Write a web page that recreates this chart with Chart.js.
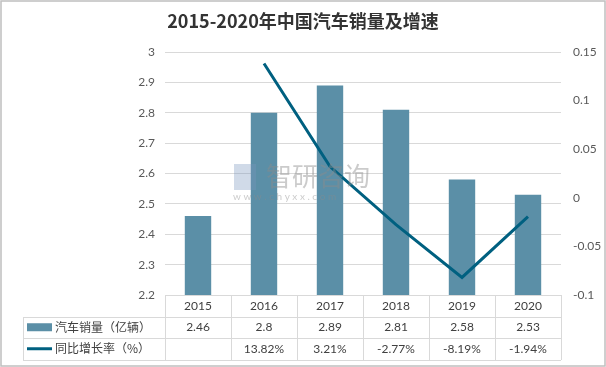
<!DOCTYPE html>
<html lang="zh-CN">
<head>
    <meta charset="UTF-8">
    <title>2015-2020年中国汽车销量及增速</title>
    <script src="https://cdn.jsdelivr.net/npm/chart.js"></script>
    <style>
        body { margin: 0; padding: 0; background: #fff; }
        .wrap { width: 606px; height: 367px; position: relative; }
    </style>
</head>
<body>
    <div class="wrap">
        <canvas id="salesChart" width="606" height="367"></canvas>
    </div>

    <script>
        // data
        const years = ['2015', '2016', '2017', '2018', '2019', '2020'];
        const sales = [2.46, 2.8, 2.89, 2.81, 2.58, 2.53];            // 亿辆
        const growth = [null, 0.1382, 0.0321, -0.0277, -0.0819, -0.0194];
        const salesLabels = ['2.46', '2.8', '2.89', '2.81', '2.58', '2.53'];
        const growthLabels = ['', '13.82%', '3.21%', '-2.77%', '-8.19%', '-1.94%'];
        const salesName = '汽车销量（亿辆）';
        const growthName = '同比增长率（%）';

        const barColor = '#5b8fa7';
        const lineColor = '#006080';
        const gridColor = '#d9d9d9';
        const textColor = '#404040';
        const numFont = "Lato, 'Noto Sans CJK SC', sans-serif";
        const cjkFont = "'Noto Sans CJK SC', sans-serif";

        // white page, outer border, faint watermark
        const backdrop = {
            id: 'backdrop',
            beforeDraw(chart) {
                const c = chart.ctx;
                c.save();
                c.fillStyle = '#fff';
                c.fillRect(0, 0, chart.width, chart.height);
                c.strokeStyle = '#bfbfbf';
                c.lineWidth = 1.5;
                c.strokeRect(1, 1, chart.width - 2, chart.height - 2);
                c.restore();
            },
            afterDatasetsDraw(chart) {
                const c = chart.ctx;
                c.save();
                c.fillStyle = 'rgba(140,140,140,0.45)';
                c.font = "26px " + cjkFont;
                c.textBaseline = 'middle';
                c.fillText('智研咨询', 266, 176);
                c.font = "10px " + numFont;
                c.fillText('w w w . c h y x x . c o m', 233, 197);
                c.fillStyle = 'rgba(120,150,190,0.35)';
                c.fillRect(234, 164, 22, 26);
                c.restore();
            }
        };

        // data table under the plot
        const dataTable = {
            id: 'dataTable',
            afterDraw(chart) {
                const c = chart.ctx;
                const area = chart.chartArea;
                const xs = chart.scales.x;
                const step = (area.right - area.left) / years.length;
                const top = area.bottom;
                const rowH = 21.5;
                const labelLeft = 23;
                c.save();
                c.strokeStyle = gridColor;
                c.lineWidth = 1;

                // horizontal lines
                c.beginPath();
                c.moveTo(area.left, top + 0.5);
                c.lineTo(area.right, top + 0.5);
                for (let r = 1; r <= 3; r++) {
                    const y = Math.round(top + r * rowH) + 0.5;
                    c.moveTo(labelLeft, y);
                    c.lineTo(area.right, y);
                }
                // vertical lines
                for (let i = 0; i <= years.length; i++) {
                    const x = Math.round(area.left + i * step) + 0.5;
                    c.moveTo(x, top);
                    c.lineTo(x, Math.round(top + 3 * rowH));
                }
                c.moveTo(labelLeft + 0.5, Math.round(top + rowH));
                c.lineTo(labelLeft + 0.5, Math.round(top + 3 * rowH));
                c.stroke();

                // legend keys and names
                const y1 = top + rowH * 1.5;
                const y2 = top + rowH * 2.5;
                c.fillStyle = barColor;
                c.fillRect(27, y1 - 4, 25, 8);
                c.strokeStyle = lineColor;
                c.lineWidth = 3;
                c.beginPath();
                c.moveTo(27, y2);
                c.lineTo(52, y2);
                c.stroke();

                c.fillStyle = textColor;
                c.textBaseline = 'middle';
                c.font = "12px " + cjkFont;
                c.textAlign = 'left';
                c.fillText(salesName, 55, y1);
                c.fillText(growthName, 55, y2);

                // values
                c.font = "12px " + numFont;
                c.textAlign = 'center';
                years.forEach((y, i) => {
                    const x = xs.getPixelForTick(i);
                    c.fillText(salesLabels[i], x, y1);
                    c.fillText(growthLabels[i], x, y2);
                });
                c.restore();
            }
        };

        const ctx = document.getElementById('salesChart').getContext('2d');
        const chart = new Chart(ctx, {
            data: {
                labels: years,
                datasets: [
                    {
                        type: 'line',
                        label: growthName,
                        data: growth,
                        yAxisID: 'y1',
                        borderColor: lineColor,
                        borderWidth: 3,
                        pointRadius: 0,
                        tension: 0,
                        fill: false,
                        order: 0
                    },
                    {
                        type: 'bar',
                        label: salesName,
                        data: sales,
                        yAxisID: 'y',
                        backgroundColor: barColor,
                        categoryPercentage: 1,
                        barPercentage: 0.4,
                        order: 1
                    }
                ]
            },
            options: {
                responsive: false,
                animation: false,
                layout: { padding: 0 },
                plugins: {
                    legend: { display: false },
                    tooltip: { enabled: false },
                    title: {
                        display: true,
                        text: '2015-2020年中国汽车销量及增速',
                        color: '#333333',
                        font: { family: cjkFont, size: 18, weight: 'bold', lineHeight: 1.2 },
                        padding: { top: 10, bottom: 20.4 }
                    }
                },
                scales: {
                    x: {
                        grid: { display: false, drawTicks: false },
                        border: { display: false },
                        ticks: { color: textColor, font: { family: numFont, size: 12 }, padding: 4 },
                        afterFit: s => { s.height = 72; }
                    },
                    y: {
                        position: 'left',
                        min: 2.2,
                        max: 3,
                        ticks: {
                            stepSize: 0.1,
                            color: '#595959',
                            padding: 10,
                            font: { family: numFont, size: 12 },
                            callback: v => String(+v.toFixed(2))
                        },
                        grid: { color: gridColor, drawTicks: false },
                        border: { display: false },
                        afterFit: s => { s.width = 165; }
                    },
                    y1: {
                        position: 'right',
                        min: -0.1,
                        max: 0.15,
                        ticks: {
                            stepSize: 0.05,
                            color: '#595959',
                            padding: 12,
                            font: { family: numFont, size: 12 },
                            callback: v => String(+v.toFixed(2))
                        },
                        grid: { display: false, drawTicks: false },
                        border: { display: false },
                        afterFit: s => { s.width = 45; }
                    }
                }
            },
            plugins: [backdrop, dataTable]
        });
    </script>
</body>
</html>
